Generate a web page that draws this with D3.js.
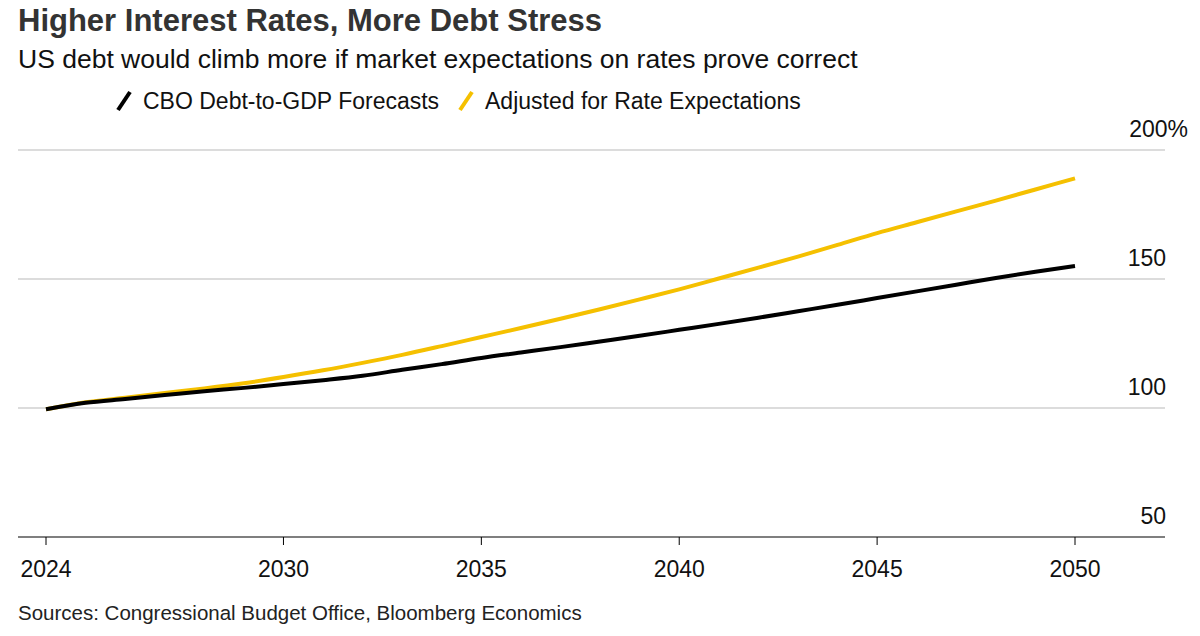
<!DOCTYPE html>
<html><head><meta charset="utf-8">
<script src="https://cdn.jsdelivr.net/npm/d3@7"></script>
<style>body{margin:0;background:#fff;font-family:"Liberation Sans",Arial,sans-serif;}</style>
</head><body>
<script>
const years = d3.range(2024, 2051);
const cbo = [99.5,102,103.5,105,106.5,107.8,109.3,110.8,112.5,114.8,117,119.4,121.5,123.6,125.8,128,130.3,132.6,135,137.5,140,142.6,145.2,147.8,150.4,152.8,155];
const adjusted = [99.5,102.2,104,105.8,107.6,109.6,112,114.6,117.5,120.6,124,127.5,131,134.6,138.3,142.1,146,150.2,154.4,158.7,163.2,167.8,172,176.2,180.4,184.7,189];
const xTicks = [2024,2030,2035,2040,2045,2050];
const yTicks = [50,100,150,200];

const width = 1200, height = 636;
const svg = d3.select("body").append("svg").attr("width", width).attr("height", height);

const x = d3.scaleLinear().domain([2024, 2050]).range([46, 1075]);
const y = d3.scaleLinear().domain([50, 200]).range([537, 150]);

svg.append("text").attr("x", 18).attr("y", 31).attr("font-size", 31).attr("font-weight", "bold")
  .attr("fill", "#333").text("Higher Interest Rates, More Debt Stress");
svg.append("text").attr("x", 18).attr("y", 68).attr("font-size", 26.5).attr("fill", "#111")
  .text("US debt would climb more if market expectations on rates prove correct");

// Legend
const legend = [["CBO Debt-to-GDP Forecasts", "#000", 118], ["Adjusted for Rate Expectations", "#f5c000", 460]];
legend.forEach(([t, c, lx]) => {
  svg.append("line").attr("x1", lx).attr("y1", 110).attr("x2", lx + 12).attr("y2", 92)
    .attr("stroke", c).attr("stroke-width", 4);
  svg.append("text").attr("x", lx + 25).attr("y", 109).attr("font-size", 23).attr("fill", "#111").text(t);
});

// Grid + y labels
yTicks.forEach(v => {
  if (v > 50) svg.append("line").attr("x1", 18).attr("x2", 1165).attr("y1", y(v)).attr("y2", y(v))
    .attr("stroke", "#d0d0d0").attr("stroke-width", 1.5);
  svg.append("text").attr("x", v === 200 ? 1188 : 1166).attr("y", y(v) - 13).attr("text-anchor", "end")
    .attr("font-size", 23).attr("fill", "#111").text(v === 200 ? "200%" : v);
});

// X axis
svg.append("line").attr("x1", 18).attr("x2", 1165).attr("y1", y(50)).attr("y2", y(50)).attr("stroke", "#000").attr("stroke-width", 1.2);
xTicks.forEach(t => {
  svg.append("line").attr("x1", x(t)).attr("x2", x(t)).attr("y1", y(50)).attr("y2", y(50) + 8).attr("stroke", "#000");
  svg.append("text").attr("x", x(t)).attr("y", 577).attr("text-anchor", "middle").attr("font-size", 23).attr("fill", "#111").text(t);
});

const line = d3.line().x((d, i) => x(years[i])).y(d => y(d)).curve(d3.curveMonotoneX);
svg.append("path").datum(adjusted).attr("d", line).attr("fill", "none").attr("stroke", "#f5c000").attr("stroke-width", 4);
svg.append("path").datum(cbo).attr("d", line).attr("fill", "none").attr("stroke", "#000").attr("stroke-width", 4);

svg.append("text").attr("x", 18).attr("y", 620).attr("font-size", 20.5).attr("fill", "#222")
  .text("Sources: Congressional Budget Office, Bloomberg Economics");
</script>
</body></html>
